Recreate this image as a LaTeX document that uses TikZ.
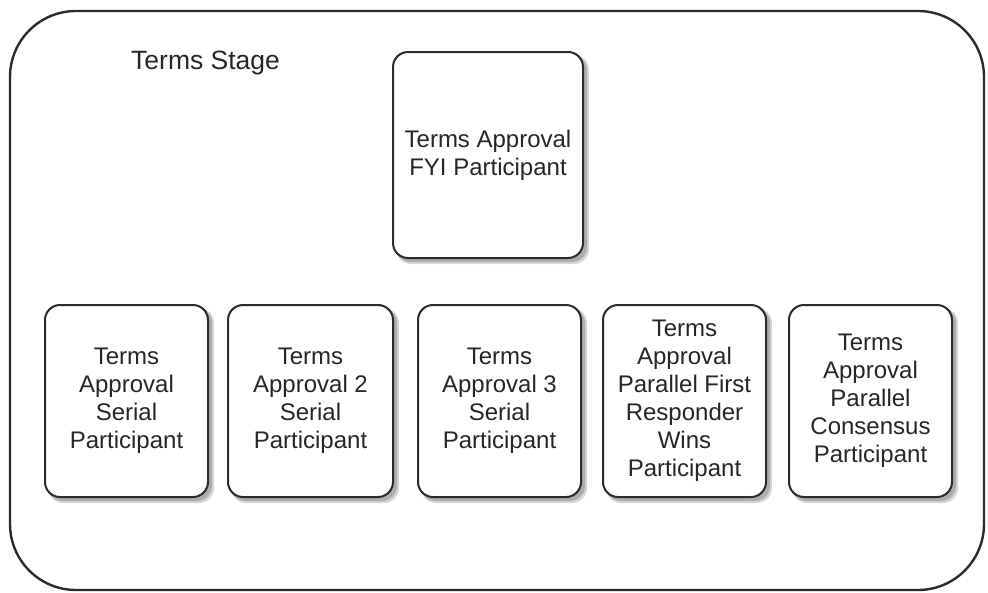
\documentclass[tikz,border=0pt]{standalone}
\usepackage{fontspec}
\setmainfont{Liberation Sans}
\definecolor{edge}{HTML}{2B2B2B}
\definecolor{txt}{HTML}{262626}
\tikzset{
  part/.style={draw=edge, line width=2pt, rounded corners=15pt, fill=white,
    text=txt, align=center, inner sep=0pt,
    font=\fontsize{24}{28}\selectfont},
  shade1/.style={fill=black!16, draw=none, rounded corners=15pt},
  shade2/.style={fill=black!32, draw=none, rounded corners=15pt},
}
\newcommand{\partbox}[6]{% name, x1, y1, x2, y2, text
  \fill[shade1] (#2+3pt,-#3-3pt) rectangle (#4+6pt,-#5-6pt);
  \fill[shade2] (#2+3pt,-#3-3pt) rectangle (#4+4pt,-#5-4pt);
  \node[part, minimum width=#4pt-#2pt, minimum height=#5pt-#3pt]
    (#1) at ({(#2+#4)/2},{-(#3+#5)/2}) {#6};
}
\begin{document}
\begin{tikzpicture}[x=1pt,y=1pt]
\useasboundingbox (0,0) rectangle (988,-592);
% outer stage
\draw[edge, line width=2.4pt, rounded corners=66pt] (10,-11) rectangle (984,-590);
\node[anchor=base west, text=txt, inner sep=0pt, font=\fontsize{26.5}{30}\selectfont]
  (stage) at (131,-69) {Terms Stage};
\partbox{fyi}{393}{52}{583}{258}{Terms Approval\\FYI Participant}
\partbox{s1}{45}{305}{208}{497}{Terms\\Approval\\Serial\\Participant}
\partbox{s2}{228}{305}{393}{497}{Terms\\Approval 2\\Serial\\Participant}
\partbox{s3}{418}{305}{581}{497}{Terms\\Approval 3\\Serial\\Participant}
\partbox{pf}{603}{305}{766}{497}{Terms\\Approval\\Parallel First\\Responder\\Wins\\Participant}
\partbox{pc}{789}{305}{952}{497}{Terms\\Approval\\Parallel\\Consensus\\Participant}
\end{tikzpicture}
\end{document}
